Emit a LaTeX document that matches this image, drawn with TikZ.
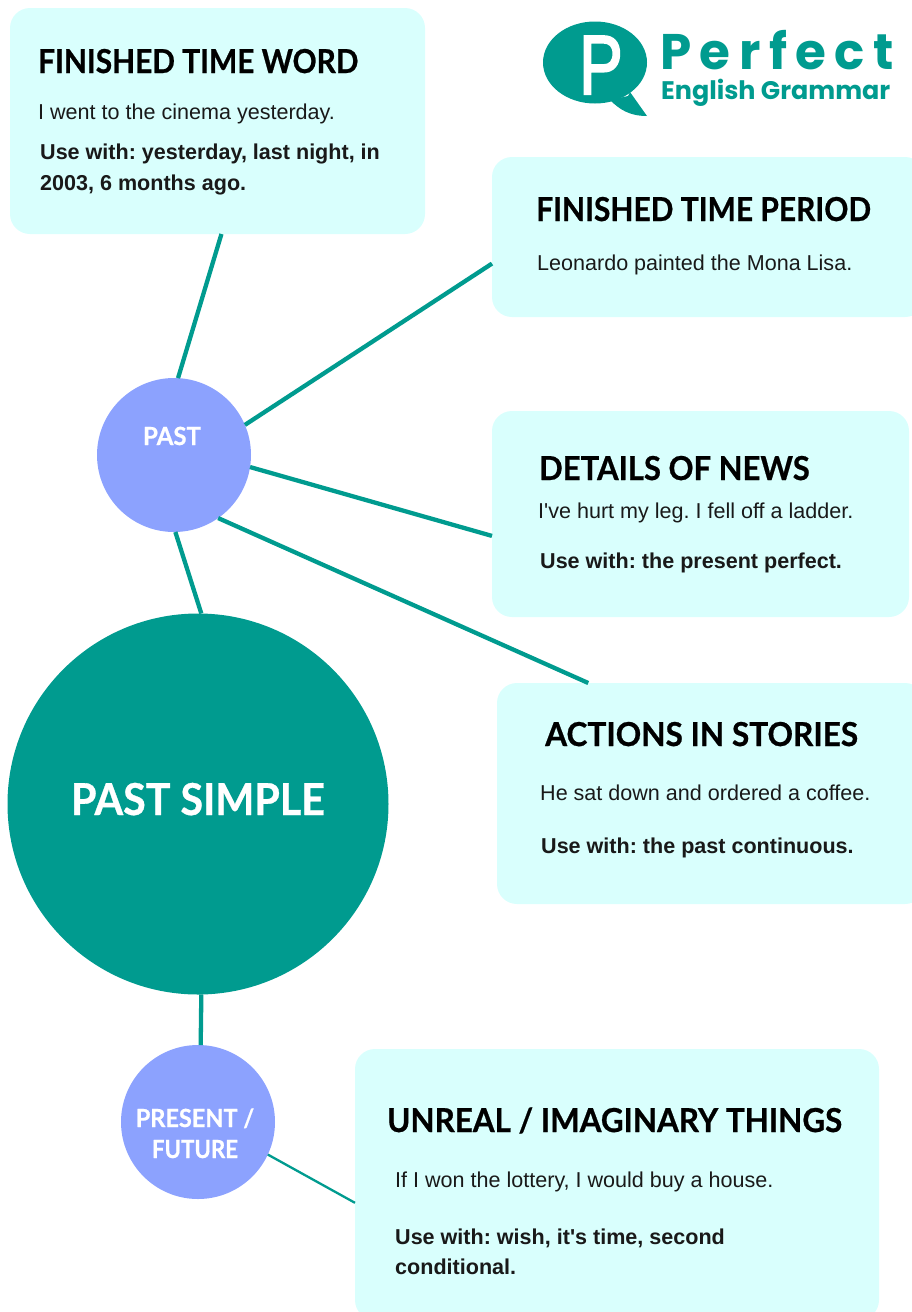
\documentclass[tikz,border=0pt]{standalone}
\usepackage{graphicx}
\usepackage{fontspec}
\setmainfont[Ligatures=TeXOff]{Liberation Sans}
\newfontfamily\headfont[FakeBold=0.7]{Lato Bold}
\newfontfamily\logofont[LetterSpace=17]{Poppins}
\newfontfamily\logosub{Poppins}
\newfontfamily\logop[FakeBold=2.5]{Liberation Sans}
\frenchspacing
\definecolor{teal1}{HTML}{009B8F}
\definecolor{boxc}{HTML}{D9FFFD}
\definecolor{circ}{HTML}{8CA2FE}
\newcommand{\hd}[2]{\scalebox{#1}[1]{#2}}
\tikzset{
  card/.style={fill=boxc,rounded corners=20pt,inner sep=0pt,outer sep=0pt,anchor=north west},
  link/.style={draw=teal1,line width=4.3pt},
  thinlink/.style={draw=teal1,line width=2.3pt},
  ball/.style={circle,fill=circ,inner sep=0pt,outer sep=0pt,minimum size=154pt},
  head/.style={anchor=base west,inner sep=0pt,font=\headfont\fontsize{33}{33}\selectfont,text=black},
  body/.style={anchor=base west,inner sep=0pt,font=\fontsize{21.55}{24}\selectfont,text=black!90},
  strong/.style={anchor=base west,inner sep=0pt,font=\bfseries\fontsize{21.55}{24}\selectfont,text=black!90},
  balltext/.style={anchor=base,inner sep=0pt,text=white,font=\headfont\fontsize{25}{25}\selectfont}
}
\begin{document}
\begin{tikzpicture}[x=1pt,y=-1pt]
\useasboundingbox (0,0) rectangle (912,1312);
% cards
\node[card,minimum width=415pt,minimum height=226pt] (word) at (10,8) {};
\node[card,minimum width=433pt,minimum height=160pt] (period) at (492,157) {};
\node[card,minimum width=417pt,minimum height=206pt] (news) at (492,411) {};
\node[card,minimum width=428pt,minimum height=221pt] (stories) at (497,683) {};
\node[card,minimum width=524pt,minimum height=271pt] (unreal) at (355,1049) {};
% circles
\node[ball] (past) at (174,455) {};
\node[ball] (present) at (198,1122) {};
\node[circle,fill=teal1,inner sep=0pt,outer sep=0pt,minimum size=381pt] (main) at (198,804) {};
% connectors
\draw[link] (past.87) -- (word.272);
\draw[link] (past.23.6) -- (period.187.9);
\draw[link] (past.-9) -- (news.186.7);
\draw[link] (past.-55) -- (stories.138.4);
\draw[link] (past.-89) -- (main.89.4);
\draw[link] (main.-89.8) -- (present.88);
\draw[thinlink] (present.-25.2) -- (unreal.184.9);
% texts
\node[head] (t1) at (38,73) {\hd{.904}{FINISHED TIME WORD}};
\node[body] (t1a) at (38,119) {I went to the cinema yesterday.};
\node[strong] (t1b) at (40,159) {Use with: yesterday, last night, in};
\node[strong] (t1c) at (40,190) {2003, 6 months ago.};
\node[head] (t2) at (536,221) {\hd{.907}{FINISHED TIME PERIOD}};
\node[body] (t2a) at (537,270) {Leonardo painted the Mona Lisa.};
\node[head] (t3) at (539,480) {\hd{.94}{DETAILS OF NEWS}};
\node[body] (t3a) at (538,518) {I've hurt my leg. I fell off a ladder.};
\node[strong] (t3b) at (540,568) {Use with: the present perfect.};
\node[head] (t4) at (545,746) {\hd{.957}{ACTIONS IN STORIES}};
\node[body] (t4a) at (540,800) {He sat down and ordered a coffee.};
\node[strong] (t4b) at (541,853) {Use with: the past continuous.};
\node[head] (t5) at (387,1132) {\hd{.95}{UNREAL / IMAGINARY THINGS}};
\node[body] (t5a) at (395,1187) {If I won the lottery, I would buy a house.};
\node[strong] (t5b) at (395,1244) {Use with: wish, it's time, second};
\node[strong] (t5c) at (395,1274) {conditional.};
\node[balltext] (l1) at (172,445) {\hd{.96}{PAST}};
\node[balltext] (l2) at (195,1127) {\hd{.94}{PRESENT /}};
\node[balltext] (l3) at (195,1158) {\hd{.89}{FUTURE}};
\node[balltext,font=\headfont\fontsize{44}{44}\selectfont] (l4) at (198,815) {\hd{.937}{PAST SIMPLE}};
% logo
\fill[teal1] (595,62.5) ellipse [x radius=52, y radius=41];
\fill[teal1] (610,100) -- (628,96) -- (630,92) -- (647,116) .. controls (630,116) and (620,110) .. (610,100) -- cycle;
\node[anchor=base,inner sep=0pt,text=white,font=\logop\fontsize{84}{84}\selectfont] (lp) at (601,94) {\hd{.78}{P}};
\node[anchor=base west,inner sep=0pt,text=teal1,font=\logofont\bfseries\fontsize{50}{50}\selectfont] (lt) at (660,69) {Perfect};
\node[anchor=base west,inner sep=0pt,text=teal1,font=\logosub\bfseries\fontsize{25.4}{25}\selectfont] (ls) at (661,99) {English Grammar};
\end{tikzpicture}
\end{document}
